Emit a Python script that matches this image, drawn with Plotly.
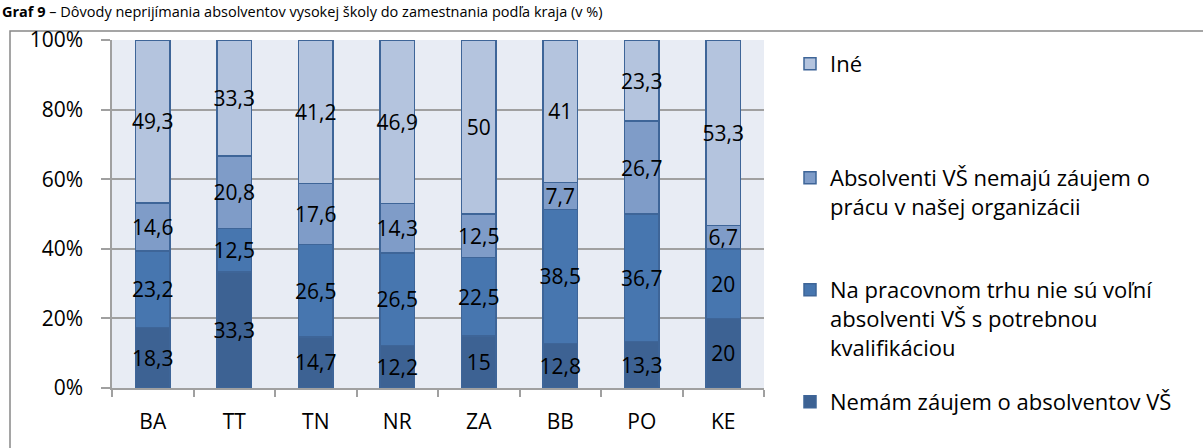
import plotly.graph_objects as go

# Regions (kraje) and the four answer categories, values in %
kraje = ["BA", "TT", "TN", "NR", "ZA", "BB", "PO", "KE"]

nemam_zaujem = [18.3, 33.3, 14.7, 12.2, 15, 12.8, 13.3, 20]
nie_su_volni = [23.2, 12.5, 26.5, 26.5, 22.5, 38.5, 36.7, 20]
nemaju_zaujem = [14.6, 20.8, 17.6, 14.3, 12.5, 7.7, 26.7, 6.7]
ine = [49.3, 33.3, 41.2, 46.9, 50, 41, 23.3, 53.3]

series_names = [
    "Nemám záujem o absolventov VŠ",
    "Na pracovnom trhu nie sú voľní<br>absolventi VŠ s potrebnou<br>kvalifikáciou",
    "Absolventi VŠ nemajú záujem o<br>prácu v našej organizácii",
    "Iné",
]
series_values = [nemam_zaujem, nie_su_volni, nemaju_zaujem, ine]
series_colors = ["#3D6293", "#4776AF", "#7F9CC8", "#B4C4DE"]
legend_ids = ["legend4", "legend3", "legend2", "legend"]

W, H = 1203, 448
ML, MR, MT, MB = 112, 439, 40, 60
PW, PH = W - ML - MR, H - MT - MB

FONT = "Open Sans"


def px2x(px):
    return (px - ML) / PW


def py2y(py):
    return (H - MB - py) / PH


def fmt(v):
    return f"{v:g}".replace(".", ",")


fig = go.Figure()
for name, vals, col, lg in zip(series_names, series_values, series_colors, legend_ids):
    fig.add_trace(go.Bar(
        name=name,
        x=kraje,
        y=vals,
        text=[fmt(v) for v in vals],
        textposition="inside",
        insidetextanchor="middle",
        constraintext="none",
        textangle=0,
        textfont=dict(family=FONT, size=21, color="black"),
        marker=dict(color=col, line=dict(color="#3E6598", width=1.5)),
        width=0.42,
        legend=lg,
        hoverinfo="skip",
    ))

legend_common = dict(
    xanchor="left", yanchor="top",
    bgcolor="rgba(0,0,0,0)",
    font=dict(family=FONT, size=22, color="black"),
    valign="top",
    itemclick=False, itemdoubleclick=False,
)
text_x = 830
legend_rows = {"legend": 63, "legend2": 177, "legend3": 289, "legend4": 401}
legends = {}
for lg, row_py in legend_rows.items():
    legends[lg] = dict(legend_common, x=px2x(text_x - 40), y=py2y(row_py - 20))

fig.update_layout(
    width=W, height=H,
    margin=dict(l=ML, r=MR, t=MT, b=MB, pad=0),
    barmode="stack",
    barnorm="percent",
    plot_bgcolor="#E8ECF4",
    paper_bgcolor="white",
    font=dict(family=FONT, size=21, color="black"),
    showlegend=True,
    **legends,
)

fig.update_yaxes(
    range=[0, 100],
    dtick=20,
    ticksuffix="%",
    showgrid=True, gridcolor="#A0A0A0", gridwidth=1.5,
    showline=True, linecolor="#A0A0A0", linewidth=1.5,
    ticks="outside", ticklen=9, tickcolor="#A0A0A0", tickwidth=1.5,
    ticklabelstandoff=14,
    tickfont=dict(family=FONT, size=21, color="black"),
    zeroline=False,
)
fig.update_xaxes(
    showgrid=False,
    showline=True, linecolor="#A0A0A0", linewidth=1.5,
    ticks="outside", ticklen=7, tickcolor="#A0A0A0", tickwidth=1.5,
    tickson="boundaries",
    ticklabelstandoff=14,
    tickfont=dict(family=FONT, size=21, color="black"),
)

# Frame around the chart area
fig.add_shape(
    type="rect", xref="paper", yref="paper",
    x0=px2x(10), x1=px2x(1215), y0=py2y(470), y1=py2y(31),
    line=dict(color="#888888", width=1.5), fillcolor="rgba(0,0,0,0)",
    layer="below",
)

# Heading above the frame
fig.add_annotation(
    xref="paper", yref="paper",
    x=px2x(0), y=py2y(0),
    xanchor="left", yanchor="top",
    text="<b>Graf 9</b> – Dôvody neprijímania absolventov vysokej školy do zamestnania podľa kraja (v %)",
    showarrow=False,
    font=dict(family=FONT, size=14.5, color="black"),
)

fig.write_html("out.html")
